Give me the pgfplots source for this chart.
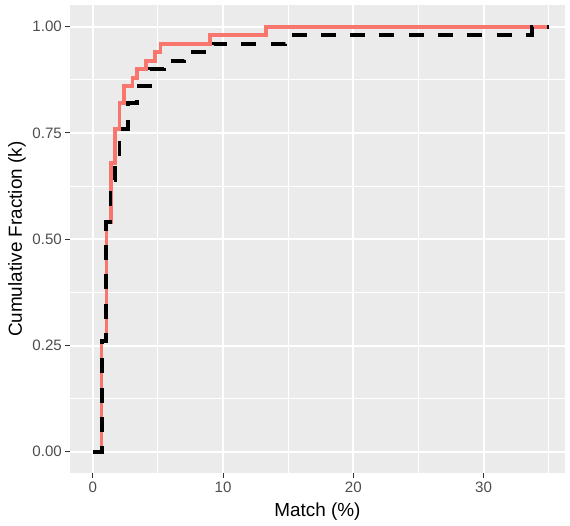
\documentclass[border=0pt]{standalone}
\usepackage{pgfplots}
\pgfplotsset{compat=1.18}
\usepackage{fontspec}
\setmainfont{Liberation Sans}
\definecolor{ggbg}{HTML}{EBEBEB}
\definecolor{ggred}{HTML}{F8766D}
\definecolor{gg30}{HTML}{4D4D4D}
\definecolor{gg20}{HTML}{333333}
\begin{document}
\begin{tikzpicture}
\begin{axis}[
  scale only axis,
  width=495pt, height=467.5pt,
  xmin=-1.75, xmax=36.25,
  ymin=-0.05, ymax=1.05,
  axis background/.style={fill=ggbg},
  axis line style={draw=none},
  xtick={0,10,20,30}, xticklabels={0,10,20,30},
  ytick={0,0.25,0.5,0.75,1}, yticklabels={0.00,0.25,0.50,0.75,1.00},
  minor xtick={5,15,25,35},
  minor ytick={0.125,0.375,0.625,0.875},
  grid=both,
  major grid style={white, line width=2pt},
  minor grid style={white, line width=1pt},
  tick align=outside,
  major tick length=4.5pt,
  minor tick length=0pt,
  tick style={gg20, line width=1pt},
  xtick pos=bottom, ytick pos=left,
  ticklabel style={font=\fontsize{15.1}{18}\selectfont, text=gg30},
  xticklabel style={anchor=north, inner sep=0pt, yshift=-4pt},
  yticklabel style={anchor=east, inner sep=0pt, xshift=-3.5pt},
  xlabel={Match (\%)},
  ylabel={Cumulative Fraction (k)},
  every axis x label/.style={at={(axis description cs:0.5,0)}, anchor=center, yshift=-39pt, font=\fontsize{18.9}{22}\selectfont, text=black},
  every axis y label/.style={at={([xshift=-53pt]axis description cs:0,0.5)}, anchor=center, rotate=90, font=\fontsize{18.9}{22}\selectfont, text=black},
  clip=true,
]
\addplot[const plot, ggred, line width=3.7pt, line cap=butt] coordinates {
(0,0) (0.66,0.26) (1.05,0.54) (1.38,0.68) (1.72,0.76) (2.05,0.82) (2.42,0.86)
(3.05,0.88) (3.4,0.90) (4.1,0.92) (4.8,0.94) (5.2,0.96) (9.0,0.98) (13.3,1.00) (35.0,1.00)
};
\addplot[const plot, black, line width=3.7pt, line cap=butt, dash pattern=on 15pt off 14.3pt] coordinates {
(0,0) (0.72,0.26) (1.02,0.54) (1.37,0.64) (1.7,0.70) (2.05,0.76) (2.7,0.82) (3.4,0.86)
(4.4,0.90) (5.45,0.92) (7.05,0.94) (9.3,0.96) (14.8,0.98) (33.7,1.00) (35.0,1.00)
};
\coordinate (pl) at (rel axis cs:0,0);
\coordinate (pr) at (rel axis cs:1,1);
\end{axis}
\pgfresetboundingbox
\path ([xshift=-70pt,yshift=-52pt]pl) rectangle ([xshift=5pt,yshift=5.5pt]pr);
\end{tikzpicture}
\end{document}
